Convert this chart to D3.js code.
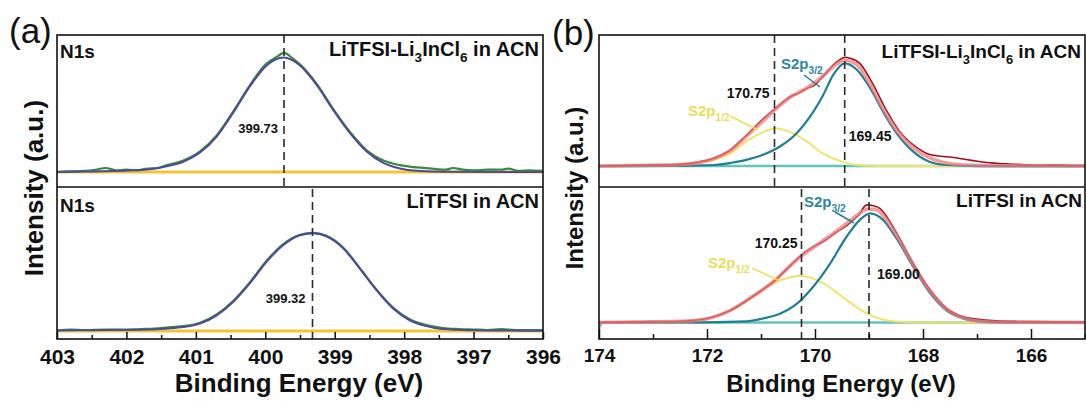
<!DOCTYPE html>
<html><head><meta charset="utf-8">
<script src="https://cdn.jsdelivr.net/npm/d3@7"></script>
<style>
html,body{margin:0;padding:0;background:#fff;}
text{font-family:"Liberation Sans",Arial,sans-serif;}
</style></head>
<body><svg id="c" width="1086" height="401"></svg>
<script>
// ---------- DATA ----------
// Panel (a): N1s, x = binding energy (eV), y = normalized intensity
const aTicksMajor = [403, 402, 401, 400, 399, 398, 397, 396];
const aTicksMinor = [402.5, 401.5, 400.5, 399.5, 398.5, 397.5, 396.5];
const aTopLabel = "LiTFSI-Li3InCl6 in ACN";
const aBotLabel = "LiTFSI in ACN";
const aTopPeak = 399.73;
const aBotPeak = 399.32;

const aTopRaw = [[403,0.0],[402.8,0.005],[402.6,0.01],[402.45,0.02],[402.3,0.035],[402.15,0.015],[402.0,0.02],[401.85,0.015],[401.7,0.03],[401.55,0.035],[401.42,0.06],[401.18,0.10],[400.94,0.18],[400.70,0.32],[400.46,0.53],[400.22,0.76],[399.98,0.95],[399.85,1.0],[399.73,1.04],[399.62,1.0],[399.50,0.94],[399.26,0.77],[399.02,0.55],[398.78,0.35],[398.54,0.19],[398.30,0.10],[398.06,0.06],[397.82,0.04],[397.6,0.03],[397.4,0.02],[397.3,0.035],[397.15,0.02],[397.0,0.015],[396.8,0.02],[396.6,0.02],[396.5,0.03],[396.35,0.01],[396.2,0.015],[396,0.01]];
const aTopFit = [[403,0.0],[402.6,0.004],[402.2,0.008],[401.9,0.015],[401.66,0.025],[401.42,0.05],[401.18,0.09],[400.94,0.17],[400.70,0.31],[400.46,0.52],[400.22,0.75],[399.98,0.93],[399.74,1.0],[399.50,0.93],[399.26,0.76],[399.02,0.54],[398.78,0.34],[398.54,0.18],[398.30,0.08],[398.06,0.03],[397.82,0.01],[397.4,0.002],[396,0.0]];
const aBotRaw = [[403,0.005],[402.8,0.015],[402.6,0.01],[402.3,0.015],[402.0,0.012],[401.8,0.02],[401.6,0.025],[401.42,0.035],[401.18,0.05],[400.94,0.085],[400.70,0.17],[400.46,0.31],[400.22,0.50],[399.98,0.72],[399.74,0.89],[399.50,0.985],[399.31,1.005],[399.12,0.975],[398.88,0.855],[398.64,0.645],[398.40,0.425],[398.16,0.24],[397.92,0.12],[397.68,0.06],[397.44,0.03],[397.2,0.02],[397.0,0.015],[396.8,0.01],[396.6,0.02],[396.4,0.01],[396,0.008]];
const aBotFit = [[403,0.005],[402.5,0.008],[402,0.012],[401.66,0.015],[401.42,0.025],[401.18,0.04],[400.94,0.075],[400.70,0.16],[400.46,0.30],[400.22,0.49],[399.98,0.71],[399.74,0.88],[399.50,0.98],[399.31,1.0],[399.12,0.97],[398.88,0.85],[398.64,0.64],[398.40,0.42],[398.16,0.23],[397.92,0.11],[397.68,0.05],[397.44,0.02],[397.0,0.008],[396.5,0.004],[396,0.003]];
const aBaseline = [[403,0],[396,0]];

// Panel (b): S2p
const bTicksMajor = [174, 172, 170, 168, 166];
const bTicksMinor = [173, 171, 169, 167, 165];
const bTopLabel = "LiTFSI-Li3InCl6 in ACN";
const bBotLabel = "LiTFSI in ACN";
const bTopPeaks = [170.75, 169.45];
const bBotPeaks = [170.25, 169.00];

const bTopRaw = [[174,0.0],[173.5,0.005],[173.2,0.01],[173.0,0.012],[172.8,0.01],[172.5,0.016],[172.19,0.036],[171.88,0.075],[171.57,0.156],[171.27,0.30],[170.96,0.46],[170.74,0.56],[170.6,0.62],[170.46,0.675],[170.3,0.71],[170.15,0.756],[170.0,0.79],[169.91,0.84],[169.8,0.9],[169.66,0.985],[169.55,1.03],[169.45,1.06],[169.35,1.05],[169.17,1.0],[168.92,0.79],[168.68,0.545],[168.43,0.334],[168.18,0.205],[167.93,0.123],[167.75,0.10],[167.56,0.09],[167.4,0.08],[167.25,0.068],[167.1,0.055],[166.94,0.042],[166.8,0.035],[166.64,0.026],[166.4,0.02],[166.1,0.012],[165.8,0.008],[165.5,0.01],[165.2,0.005],[165,0.005]];
const bTopEnv = [[174,0.0],[173,0.008],[172.5,0.014],[172.19,0.03],[171.88,0.07],[171.57,0.15],[171.27,0.29],[170.96,0.44],[170.74,0.55],[170.46,0.67],[170.15,0.76],[169.91,0.85],[169.66,0.97],[169.45,1.03],[169.23,0.99],[168.98,0.80],[168.74,0.56],[168.49,0.35],[168.18,0.18],[167.87,0.08],[167.56,0.03],[167.2,0.01],[166.5,0.003],[165,0.0]];
const bTopS32 = [[174,0],[172.5,0.002],[171.88,0.01],[171.57,0.03],[171.27,0.06],[170.96,0.11],[170.65,0.19],[170.34,0.32],[170.03,0.53],[169.85,0.69],[169.66,0.89],[169.45,1.0],[169.23,0.94],[168.98,0.76],[168.74,0.53],[168.49,0.32],[168.18,0.14],[167.87,0.04],[167.56,0.01],[167.0,0.0],[165,0]];
const bTopS12 = [[174,0],[173,0.002],[172.5,0.01],[172.19,0.026],[171.88,0.06],[171.57,0.12],[171.27,0.24],[170.96,0.33],[170.74,0.367],[170.46,0.33],[170.15,0.24],[169.85,0.12],[169.54,0.05],[169.23,0.01],[168.8,0.0],[165,0]];
const bBotRaw = [[174,0.0],[173.5,0.005],[173,0.008],[172.5,0.012],[172.0,0.037],[171.57,0.11],[171.15,0.24],[170.71,0.40],[170.5,0.50],[170.25,0.62],[170.05,0.69],[169.85,0.74],[169.62,0.82],[169.41,0.89],[169.2,0.98],[169.04,1.077],[168.92,1.07],[168.80,1.046],[168.49,0.82],[168.18,0.54],[167.87,0.30],[167.56,0.13],[167.25,0.052],[166.94,0.028],[166.64,0.015],[166.3,0.01],[166,0.008],[165.5,0.006],[165,0.005]];
const bBotEnv = [[174,0.0],[173,0.006],[172.5,0.01],[172.0,0.035],[171.57,0.11],[171.15,0.24],[170.71,0.40],[170.5,0.50],[170.25,0.61],[170.05,0.68],[169.85,0.75],[169.62,0.83],[169.41,0.91],[169.2,0.99],[169.02,1.04],[168.85,1.03],[168.74,0.98],[168.49,0.80],[168.18,0.53],[167.87,0.29],[167.56,0.12],[167.25,0.04],[166.94,0.012],[166.5,0.003],[165,0.0]];
const bBotS32 = [[174,0],[172,0.002],[171.27,0.01],[170.96,0.037],[170.65,0.08],[170.34,0.17],[170.03,0.33],[169.72,0.54],[169.41,0.79],[169.17,0.94],[168.98,1.0],[168.74,0.94],[168.49,0.77],[168.18,0.51],[167.87,0.27],[167.56,0.11],[167.25,0.037],[166.94,0.01],[166.5,0.0],[165,0]];
const bBotS12 = [[174,0],[173,0.002],[172.5,0.006],[172.0,0.037],[171.57,0.11],[171.15,0.235],[170.71,0.373],[170.25,0.425],[169.85,0.36],[169.41,0.205],[169.04,0.083],[168.68,0.02],[168.3,0.003],[167.5,0],[165,0]];
const bTopBaseline = [[174,0],[165,0]];
const bBotBaseline = [[174,-0.05],[173.95,0],[165,0]];

// ---------- LAYOUT ----------
const svg = d3.select("#c");
const pTop = 35, pMid = 187, pBot = 339;
const colors = {green:"#3a8a3c", purple:"#4b4a9c", gold:"#f3c431", teal:"#1f7f96", tealBase:"#62c4ba", yellow:"#f1e26a", red:"#9e1018", pink:"#ee7b7b"};

const xa = d3.scaleLinear().domain([403, 396]).range([57, 543]);
const xb = d3.scaleLinear().domain([174, 165]).range([599, 1085]);
const yaTop = d3.scaleLinear().domain([-0.131, 1.197]).range([pMid, pTop]);
const yaBot = d3.scaleLinear().domain([-0.082, 1.474]).range([pBot, pMid]);
const ybTop = d3.scaleLinear().domain([-0.204, 1.276]).range([pMid, pTop]);
const ybBot = d3.scaleLinear().domain([-0.151, 1.241]).range([pBot, pMid]);

const defs = svg.append("defs");
let clipId = 0;
function clip(x0, y0, x1, y1) {
  const id = "clip" + (clipId++);
  defs.append("clipPath").attr("id", id).append("rect")
    .attr("x", x0).attr("y", y0).attr("width", x1 - x0).attr("height", y1 - y0);
  return "url(#" + id + ")";
}

function line(g, data, xs, ys, color, w, curve, op) {
  g.append("path").datum(data)
    .attr("d", d3.line().x(d => xs(d[0])).y(d => ys(d[1])).curve(curve || d3.curveMonotoneX))
    .attr("fill", "none").attr("stroke", color).attr("stroke-width", w)
    .attr("stroke-linejoin", "round").attr("stroke-linecap", "round")
    .attr("opacity", op == null ? 1 : op);
}

function dashed(xs, v, y0, y1) {
  svg.append("line").attr("x1", xs(v)).attr("x2", xs(v)).attr("y1", y0).attr("y2", y1)
    .attr("stroke", "#2b2b2b").attr("stroke-width", 1.6).attr("stroke-dasharray", "8,5");
}

function richText(x, y, parts, size, anchor, color, weight) {
  const t = svg.append("text").attr("x", x).attr("y", y)
    .attr("font-size", size).attr("font-weight", weight || "bold")
    .attr("text-anchor", anchor || "start").attr("fill", color || "#111");
  let down = false;
  parts.forEach(p => {
    const isSub = p[1];
    const ts = t.append("tspan").text(p[0]);
    if (isSub && !down) { ts.attr("dy", size * 0.3).attr("font-size", size * 0.68); down = true; }
    else if (isSub) { ts.attr("font-size", size * 0.68); }
    else if (!isSub && down) { ts.attr("dy", -size * 0.3); down = false; }
  });
  return t;
}
function simpleText(x, y, s, size, anchor, weight, color) {
  return svg.append("text").attr("x", x).attr("y", y).text(s)
    .attr("font-size", size).attr("font-weight", weight || "bold")
    .attr("text-anchor", anchor || "start").attr("fill", color || "#111");
}
function labelParts(s) {
  if (s.indexOf("Li3InCl6") < 0) return [[s, false]];
  return [["LiTFSI-Li", false], ["3", true], ["InCl", false], ["6", true], [" in ACN", false]];
}

// ---------- PANEL (a) ----------
const gaTop = svg.append("g").attr("clip-path", clip(57, pTop, 543, pMid));
line(gaTop, aBaseline, xa, yaTop, colors.gold, 2.8, d3.curveLinear);
line(gaTop, aTopRaw, xa, yaTop, colors.green, 2.2);
line(gaTop, aTopFit, xa, yaTop, colors.purple, 2);
const gaBot = svg.append("g").attr("clip-path", clip(57, pMid, 543, pBot));
line(gaBot, aBaseline, xa, yaBot, colors.gold, 2.8, d3.curveLinear);
line(gaBot, aBotRaw, xa, yaBot, colors.green, 2.2);
line(gaBot, aBotFit, xa, yaBot, colors.purple, 2);

dashed(xa, aTopPeak, pTop, pMid);
dashed(xa, aBotPeak, pMid + 2, pBot);
simpleText(xa(aTopPeak) - 6, 133, aTopPeak.toFixed(2), 13, "end");
simpleText(xa(aBotPeak) - 7, 303, aBotPeak.toFixed(2), 13, "end");

// ---------- PANEL (b) ----------
const gbTop = svg.append("g").attr("clip-path", clip(599, pTop, 1085, pMid));
line(gbTop, bTopBaseline, xb, ybTop, colors.tealBase, 2.5, d3.curveLinear);
line(gbTop, bTopS12, xb, ybTop, colors.yellow, 2);
line(gbTop, bTopS32, xb, ybTop, colors.teal, 2.2);
line(gbTop, bTopRaw, xb, ybTop, colors.red, 1.6);
line(gbTop, bTopEnv, xb, ybTop, colors.pink, 3.6, null, 0.75);
const gbBot = svg.append("g").attr("clip-path", clip(599, pMid, 1085, pBot));
line(gbBot, bBotBaseline, xb, ybBot, colors.tealBase, 2.5, d3.curveLinear);
line(gbBot, bBotS12, xb, ybBot, colors.yellow, 2);
line(gbBot, bBotS32, xb, ybBot, colors.teal, 2.2);
line(gbBot, bBotRaw, xb, ybBot, colors.red, 1.6);
line(gbBot, bBotEnv, xb, ybBot, colors.pink, 3.6, null, 0.75);

bTopPeaks.forEach(v => dashed(xb, v, pTop, pMid));
bBotPeaks.forEach(v => dashed(xb, v, pMid + 2, pBot));
simpleText(xb(bTopPeaks[0]) - 5, 98, bTopPeaks[0].toFixed(2), 14, "end");
simpleText(xb(bTopPeaks[1]) + 4, 141, bTopPeaks[1].toFixed(2), 14, "start");
simpleText(xb(bBotPeaks[0]) - 4, 248, bBotPeaks[0].toFixed(2), 14, "end");
simpleText(xb(bBotPeaks[1]) + 8, 279, bBotPeaks[1].toFixed(2), 14, "start");

function leader(x1, y1, x2, y2, color) {
  svg.append("line").attr("x1", x1).attr("y1", y1).attr("x2", x2).attr("y2", y2)
    .attr("stroke", color).attr("stroke-width", 1.5);
}
const s32 = [["S2p", false], ["3/2", true]];
const s12 = [["S2p", false], ["1/2", true]];
richText(781, 69, s32, 15, "start", "#2a87a3");
leader(804, 75, 820, 87, colors.teal);
richText(688, 116, s12, 15, "start", "#ecdc5c");
leader(730, 116, 758, 130, "#ecdc5c");
richText(804, 207, s32, 15, "start", "#2a87a3");
leader(835, 212, 854, 223, colors.teal);
richText(708, 268, s12, 15, "start", "#ecdc5c");
leader(752, 268, 780, 281, "#ecdc5c");

// ---------- FRAMES & AXES ----------
function frame(x0, x1) {
  svg.append("rect").attr("x", x0).attr("y", pTop).attr("width", x1 - x0).attr("height", pBot - pTop)
    .attr("fill", "none").attr("stroke", "#111").attr("stroke-width", 1.6);
  svg.append("line").attr("x1", x0).attr("x2", x1).attr("y1", pMid).attr("y2", pMid)
    .attr("stroke", "#111").attr("stroke-width", 1.6);
}
frame(57, 543);
frame(599, 1085);

function axis(xs, major, minor, majLen, minLen, fs) {
  const gM = svg.append("g").attr("transform", `translate(0,${pBot})`)
    .call(d3.axisBottom(xs).tickValues(major).tickSize(-majLen).tickPadding(10).tickFormat(d3.format("d")));
  gM.select(".domain").remove();
  gM.selectAll("line").attr("stroke", "#111").attr("stroke-width", 1.5);
  gM.selectAll("text").attr("font-size", fs).attr("font-weight", "bold")
    .attr("font-family", '"Liberation Sans",Arial,sans-serif').attr("fill", "#111");
  const gm = svg.append("g").attr("transform", `translate(0,${pBot})`)
    .call(d3.axisBottom(xs).tickValues(minor).tickSize(-minLen).tickFormat(""));
  gm.select(".domain").remove();
  gm.selectAll("line").attr("stroke", "#111").attr("stroke-width", 1.5);
}
axis(xa, aTicksMajor, aTicksMinor, 7, 4, 21);
axis(xb, bTicksMajor, bTicksMinor, 10, 5, 19);

simpleText(299, 392, "Binding Energy (eV)", 26, "middle");
simpleText(841, 392, "Binding Energy (eV)", 24, "middle");
svg.append("text").attr("transform", "translate(43,188) rotate(-90)").attr("text-anchor", "middle")
  .attr("font-size", 26).attr("font-weight", "bold").attr("fill", "#111").text("Intensity (a.u.)");
svg.append("text").attr("transform", "translate(583,188) rotate(-90)").attr("text-anchor", "middle")
  .attr("font-size", 24).attr("font-weight", "bold").attr("fill", "#111").text("Intensity (a.u.)");

simpleText(60, 58, "N1s", 19, "start");
simpleText(60, 212, "N1s", 19, "start");
richText(539, 56, labelParts(aTopLabel), 20, "end");
richText(539, 208, labelParts(aBotLabel), 20, "end");
richText(1081, 58, labelParts(bTopLabel), 19, "end");
richText(1082, 207, labelParts(bBotLabel), 19, "end");

simpleText(9, 43, "(a)", 35, "start", "normal");
simpleText(552, 45, "(b)", 35, "start", "normal");
</script></body></html>
